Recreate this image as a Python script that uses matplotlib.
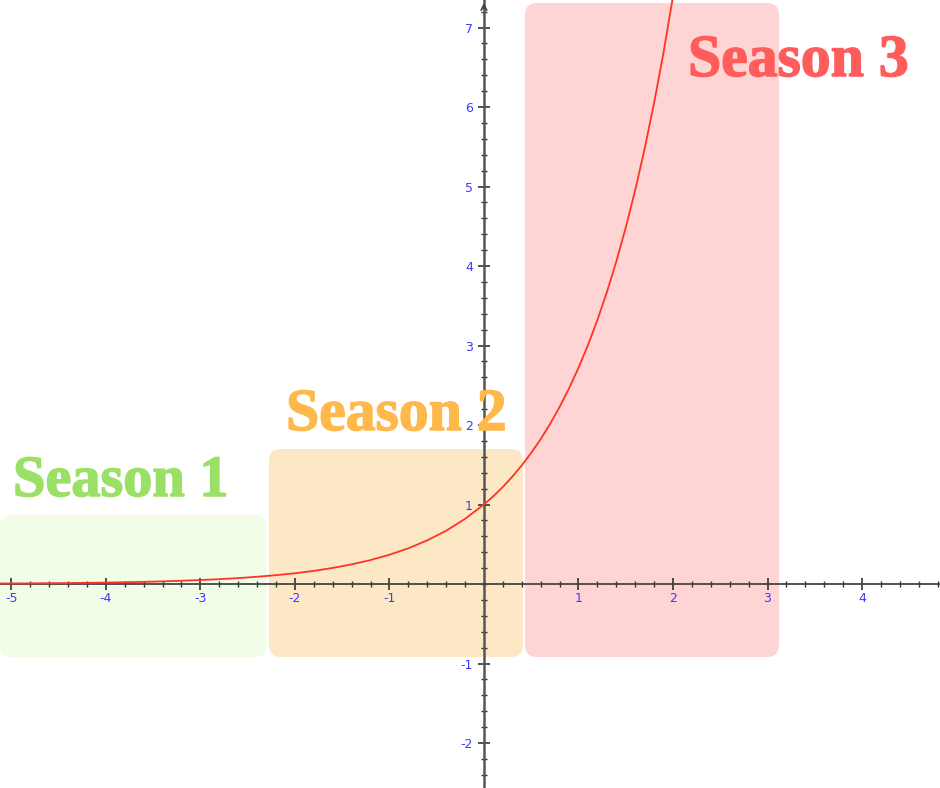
import matplotlib
matplotlib.use("Agg")
import matplotlib.pyplot as plt
import matplotlib.patheffects as pe
from matplotlib.patches import FancyBboxPatch
from matplotlib.ticker import MultipleLocator, FixedLocator

# ---- data ----
curve_x = [-5.2, -5.0, -4.8, -4.6, -4.4, -4.2, -4.0, -3.8, -3.6, -3.4, -3.2, -3.0,
           -2.8, -2.6, -2.4, -2.2, -2.0, -1.8, -1.6, -1.4, -1.2, -1.0, -0.8, -0.6,
           -0.4, -0.2, 0.0, 0.1, 0.2, 0.3, 0.4, 0.5, 0.6, 0.7, 0.8, 0.9, 1.0, 1.1,
           1.2, 1.3, 1.4, 1.5, 1.6, 1.7, 1.8, 1.9, 2.0, 2.1]
curve_y = [0.006, 0.007, 0.008, 0.010, 0.012, 0.015, 0.018, 0.022, 0.027, 0.033, 0.041, 0.050,
           0.061, 0.074, 0.091, 0.111, 0.135, 0.165, 0.202, 0.247, 0.301, 0.368, 0.449, 0.549,
           0.670, 0.819, 1.000, 1.105, 1.221, 1.350, 1.492, 1.649, 1.822, 2.014, 2.226, 2.460, 2.718, 3.004,
           3.320, 3.669, 4.055, 4.482, 4.953, 5.474, 6.050, 6.686, 7.389, 8.166]

season_names = ["Season 1", "Season 2", "Season 3"]
season_x0 = [-5.12, -2.275, 0.434]
season_x1 = [-2.30, 0.413, 3.122]
season_y0 = [-0.918, -0.918, -0.918]
season_y1 = [0.868, 1.698, 7.308]

x_tick_labels = [-5, -4, -3, -2, -1, 1, 2, 3, 4]
y_tick_labels = [-2, -1, 1, 2, 3, 4, 5, 6, 7]

# ---- style ----
box_colors = ["#f1fde6", "#fde8c6", "#ffd4d4"]
text_colors = ["#9be066", "#ffb84a", "#ff5c5c"]
# label placement (pixel left, pixel baseline, fontsize)
text_pos = [(13, 496, 42), (286, 430, 43), (688, 76, 43)]

W, H = 940, 788
fig = plt.figure(figsize=(W / 100, H / 100), dpi=100)
ax = fig.add_axes([0, 0, 1, 1])
ax.set_xlim(-5.12, 4.825)
ax.set_ylim(-2.566, 7.346)

aspect = 94.5 / 79.5
for x0, x1, y0, y1, c in zip(season_x0, season_x1, season_y0, season_y1, box_colors):
    p = FancyBboxPatch((x0, y0), x1 - x0, y1 - y0,
                       boxstyle="round,pad=0,rounding_size=0.13",
                       mutation_aspect=aspect, facecolor=c, edgecolor="none", zorder=1)
    ax.add_patch(p)

# axes through origin
for s in ["top", "right"]:
    ax.spines[s].set_visible(False)
ax.spines["left"].set_position(("data", 0))
ax.spines["bottom"].set_position(("data", 0))
ax.spines["left"].set_color("#555555")
ax.spines["bottom"].set_color("#444444")
ax.spines["left"].set_linewidth(1.8)
ax.spines["bottom"].set_linewidth(1.3)
ax.spines["left"].set_zorder(2.5)
ax.spines["bottom"].set_zorder(2.5)

ax.xaxis.set_major_locator(FixedLocator(x_tick_labels))
ax.yaxis.set_major_locator(FixedLocator(y_tick_labels))
ax.xaxis.set_minor_locator(MultipleLocator(0.2))
ax.yaxis.set_minor_locator(MultipleLocator(0.2))
ax.set_xticklabels([str(v) for v in x_tick_labels])
ax.set_yticklabels([str(v) for v in y_tick_labels])
ax.tick_params(which="major", direction="inout", length=8, width=1.2, color="#333333",
               labelsize=9, labelcolor="#3a3aff", pad=2)
ax.tick_params(which="minor", direction="inout", length=4.5, width=1.0, color="#333333")
ax.tick_params(axis="y", which="major", pad=4)

# arrow at top of y-axis
ax.annotate("", xy=(0, 7.346), xytext=(0, 7.2),
            arrowprops=dict(arrowstyle="->", color="#444444", lw=1.2), zorder=3)

ax.plot(curve_x, curve_y, color="#ff3322", lw=1.3, zorder=3, clip_on=True)

for name, c, (px, py, fs) in zip(season_names, text_colors, text_pos):
    fig.text(px / W, 1 - py / H, name, color=c, fontsize=fs, fontweight="bold",
             family="Liberation Serif", ha="left", va="baseline", zorder=5,
             path_effects=[pe.withStroke(linewidth=1.1, foreground=c)])

fig.savefig("out.png", dpi=100)
